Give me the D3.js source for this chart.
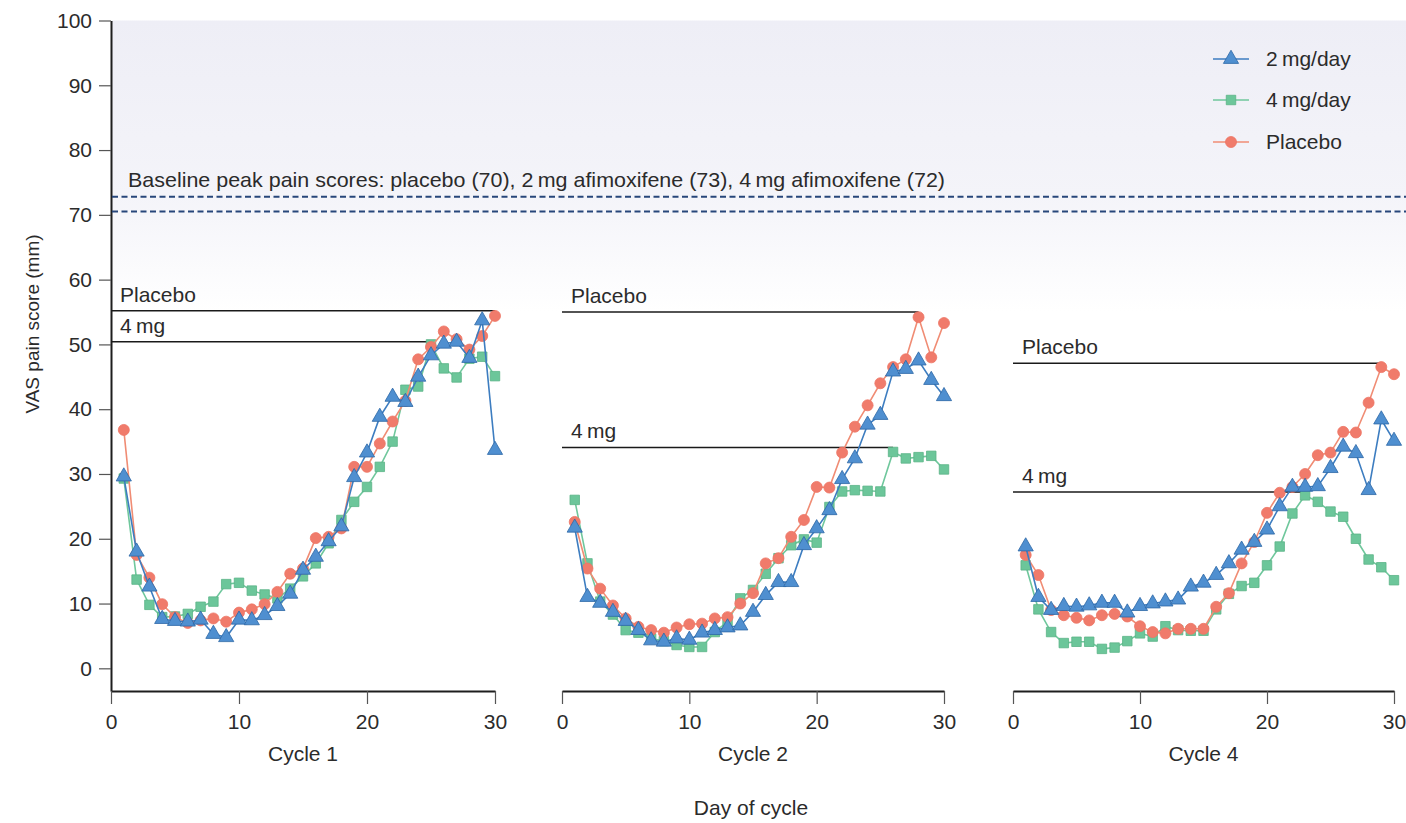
<!DOCTYPE html>
<html>
<head>
<meta charset="utf-8">
<script src="https://cdnjs.cloudflare.com/ajax/libs/d3/7.8.5/d3.min.js"></script>
<style>
  body { margin: 0; background: #fff; }
  text { font-family: "Liberation Sans", Arial, sans-serif; fill: #2b2b2b; }
</style>
</head>
<body>
<div id="chart"></div>
<script>
// days of the cycle (same for every panel)
var days = [1, 2, 3, 4, 5, 6, 7, 8, 9, 10, 11, 12, 13, 14, 15,
            16, 17, 18, 19, 20, 21, 22, 23, 24, 25, 26, 27, 28, 29, 30];
var cycles = ['Cycle 1', 'Cycle 2', 'Cycle 4'];
var series_names = ['2\u2009mg/day', '4\u2009mg/day', 'Placebo'];
var y_ticks = [0, 10, 20, 30, 40, 50, 60, 70, 80, 90, 100];
var x_ticks = [0, 10, 20, 30];

var baseline_peaks = [72.8, 70.5];
var baseline_label = 'Baseline peak pain scores: placebo (70), 2\u2009mg afimoxifene (73), 4\u2009mg afimoxifene (72)';

// VAS pain score (mm)
var cycle1_2mg     = [29.6, 18.0, 12.6, 7.6, 7.3, 7.2, 7.5, 5.3, 4.8, 7.5, 7.4, 8.2, 9.6, 11.5, 15.2,
                      17.2, 19.6, 21.9, 29.5, 33.3, 38.8, 41.9, 41.1, 45.0, 48.3, 50.1, 50.4, 47.9, 53.7, 33.7];
var cycle1_4mg     = [29.3, 13.7, 9.8, 7.9, 8.0, 8.4, 9.5, 10.3, 13.0, 13.2, 12.0, 11.4, 10.8, 12.3, 14.2,
                      16.2, 19.3, 22.9, 25.7, 28.0, 31.1, 35.0, 43.0, 43.5, 50.0, 46.3, 44.9, 47.8, 48.1, 45.1];
var cycle1_placebo = [36.8, 17.5, 14.0, 9.9, 7.9, 7.0, 7.4, 7.7, 7.2, 8.6, 9.1, 9.9, 11.8, 14.6, 15.4,
                      20.1, 20.3, 21.6, 31.1, 31.1, 34.7, 38.1, 41.3, 47.7, 49.6, 52.0, 50.8, 49.2, 51.3, 54.4];

var cycle2_2mg     = [21.7, 11.0, 10.1, 8.7, 7.3, 5.9, 4.3, 4.1, 4.6, 4.4, 5.5, 5.9, 6.3, 6.6, 8.7,
                      11.3, 13.3, 13.3, 19.0, 21.6, 24.4, 29.2, 32.4, 37.6, 39.1, 45.8, 46.2, 47.5, 44.5, 42.0];
var cycle2_4mg     = [26.0, 16.2, 10.3, 8.3, 5.9, 5.5, 4.6, 4.2, 3.6, 3.3, 3.3, 5.6, 7.2, 10.8, 12.1,
                      14.6, 17.0, 19.0, 19.9, 19.4, 24.9, 27.3, 27.5, 27.4, 27.3, 33.4, 32.4, 32.6, 32.8, 30.7];
var cycle2_placebo = [22.6, 15.4, 12.3, 9.7, 7.7, 6.4, 5.9, 5.5, 6.3, 6.8, 6.9, 7.7, 7.9, 10.0, 11.6,
                      16.2, 17.0, 20.3, 22.9, 28.0, 27.9, 33.3, 37.3, 40.6, 44.0, 46.5, 47.7, 54.2, 48.0, 53.3];

var cycle4_2mg     = [18.8, 11.0, 9.0, 9.6, 9.5, 9.7, 10.1, 10.1, 8.6, 9.6, 10.0, 10.3, 10.6, 12.6, 13.2,
                      14.4, 16.2, 18.3, 19.5, 21.4, 25.0, 28.0, 28.0, 28.1, 30.9, 34.2, 33.2, 27.5, 38.4, 35.1];
var cycle4_4mg     = [15.9, 9.1, 5.6, 3.9, 4.1, 4.1, 3.0, 3.2, 4.2, 5.4, 4.9, 6.5, 5.9, 5.8, 5.8,
                      9.1, 11.5, 12.7, 13.2, 15.9, 18.8, 23.9, 26.7, 25.7, 24.2, 23.4, 20.0, 16.8, 15.6, 13.6];
var cycle4_placebo = [17.5, 14.4, 9.0, 8.2, 7.8, 7.4, 8.2, 8.4, 8.0, 6.5, 5.6, 5.4, 6.1, 6.1, 6.1,
                      9.5, 11.6, 16.2, 19.5, 24.0, 27.1, 28.0, 30.0, 32.9, 33.3, 36.5, 36.4, 41.0, 46.5, 45.4];

// peak lines drawn in each panel
var peak_placebo     = [55.2, 55.0, 47.1];
var peak_placebo_day = [30, 28, 29];
var peak_4mg         = [50.4, 34.1, 27.2];
var peak_4mg_day     = [25, 26, 23];

var data_2mg     = [cycle1_2mg, cycle2_2mg, cycle4_2mg];
var data_4mg     = [cycle1_4mg, cycle2_4mg, cycle4_4mg];
var data_placebo = [cycle1_placebo, cycle2_placebo, cycle4_placebo];

var chart_width  = 1406;
var chart_height = 823;
var panel_left   = [111, 562, 1013];
var panel_right  = [495, 944, 1394];
var axis_y       = 691;
var font_size    = 21;

var styles = [
  { name: series_names[0], line: '#3d7dc0', fill: '#4f8fd0', stroke: '#2c67a6', symbol: d3.symbolTriangle, size: 100 },
  { name: series_names[1], line: '#6fc79c', fill: '#6cc69a', stroke: '#5ab487', symbol: d3.symbolSquare,   size: 90 },
  { name: series_names[2], line: '#f08c74', fill: '#f07b6b', stroke: '#ee7565', symbol: d3.symbolCircle,   size: 95 }
];

var svg = d3.select('#chart')
  .append('svg')
  .attr('width', chart_width)
  .attr('height', chart_height);

// faint scan tint at the top of the plot
var grad = svg.append('defs').append('linearGradient')
  .attr('id', 'tint').attr('x1', 0).attr('y1', 0).attr('x2', 0).attr('y2', 1);
grad.append('stop').attr('offset', '0%').attr('stop-color', '#eeeef6');
grad.append('stop').attr('offset', '60%').attr('stop-color', '#f4f4f9');
grad.append('stop').attr('offset', '100%').attr('stop-color', '#ffffff');

var y_scale = d3.scaleLinear()
  .domain([-3.5, 100])
  .range([axis_y, 20.5]);

svg.append('rect')
  .attr('x', panel_left[0] + 1)
  .attr('y', y_scale(100))
  .attr('width', chart_width - panel_left[0])
  .attr('height', y_scale(55) - y_scale(100))
  .attr('fill', 'url(#tint)');

// y axis
var yAxis = d3.axisLeft(y_scale)
  .tickValues(y_ticks)
  .tickSize(12)
  .tickPadding(7)
  .tickSizeOuter(0);

var gy = svg.append('g')
  .attr('transform', 'translate(' + panel_left[0] + ',0)')
  .call(yAxis);
gy.attr('font-size', font_size);
gy.select('.domain').attr('stroke', '#1e1e1e').attr('stroke-width', 2);
gy.selectAll('.tick line').attr('stroke', '#555').attr('stroke-width', 1.2);

svg.append('text')
  .attr('transform', 'translate(32,324) rotate(-90)')
  .attr('text-anchor', 'middle')
  .attr('dy', '0.35em')
  .attr('font-size', 19)
  .text('VAS pain score (mm)');

// baseline dashed lines
svg.selectAll('.baseline')
  .data(baseline_peaks)
  .enter()
  .append('line')
  .attr('class', 'baseline')
  .attr('x1', panel_left[0] + 1)
  .attr('x2', chart_width)
  .attr('y1', function(d) { return y_scale(d); })
  .attr('y2', function(d) { return y_scale(d); })
  .attr('stroke', '#27467a')
  .attr('stroke-width', 2)
  .attr('stroke-dasharray', '6,3.5');

svg.append('text')
  .attr('x', 128)
  .attr('y', 187)
  .attr('font-size', font_size)
  .attr('textLength', 817)
  .attr('lengthAdjust', 'spacingAndGlyphs')
  .text(baseline_label);

// panels
cycles.forEach(function(cycle, p) {
  var x_scale = d3.scaleLinear()
    .domain([0, 30])
    .range([panel_left[p], panel_right[p]]);

  var xAxis = d3.axisBottom(x_scale)
    .tickValues(x_ticks)
    .tickSize(13)
    .tickPadding(10)
    .tickSizeOuter(0);

  var gx = svg.append('g')
    .attr('transform', 'translate(0,' + axis_y + ')')
    .call(xAxis);
  gx.attr('font-size', font_size);
  gx.select('.domain').attr('stroke', '#1e1e1e').attr('stroke-width', 2);
  gx.selectAll('.tick line').attr('stroke', '#555').attr('stroke-width', 1.2);

  svg.append('text')
    .attr('x', x_scale(15))
    .attr('y', 761)
    .attr('text-anchor', 'middle')
    .attr('font-size', font_size)
    .text(cycle);

  // peak reference lines
  var refs = [
    { label: 'Placebo',    value: peak_placebo[p], day: peak_placebo_day[p] },
    { label: '4\u2009mg',  value: peak_4mg[p],     day: peak_4mg_day[p] }
  ];
  refs.forEach(function(r) {
    svg.append('line')
      .attr('x1', x_scale(0))
      .attr('x2', x_scale(r.day))
      .attr('y1', y_scale(r.value))
      .attr('y2', y_scale(r.value))
      .attr('stroke', '#1a1a1a')
      .attr('stroke-width', 1.5);
    svg.append('text')
      .attr('x', x_scale(0) + 9)
      .attr('y', y_scale(r.value) - 9)
      .attr('font-size', font_size)
      .text(r.label);
  });

  var line = d3.line()
    .x(function(d) { return x_scale(d.day); })
    .y(function(d) { return y_scale(d.value); });

  // drawing order: 4 mg, placebo, 2 mg on top
  var order = [1, 2, 0];
  var all = [data_2mg[p], data_4mg[p], data_placebo[p]];
  order.forEach(function(s) {
    var st = styles[s];
    var pts = days.map(function(d, i) { return { day: d, value: all[s][i] }; });

    svg.append('path')
      .datum(pts)
      .attr('d', line)
      .attr('fill', 'none')
      .attr('stroke', st.line)
      .attr('stroke-width', 1.6);

    svg.append('g')
      .selectAll('path')
      .data(pts)
      .enter()
      .append('path')
      .attr('d', d3.symbol().type(st.symbol).size(st.size))
      .attr('transform', function(d) {
        return 'translate(' + x_scale(d.day) + ',' + y_scale(d.value) + ')';
      })
      .attr('fill', st.fill)
      .attr('stroke', st.stroke)
      .attr('stroke-width', 0.8);
  });
});

svg.append('text')
  .attr('x', 751)
  .attr('y', 815)
  .attr('text-anchor', 'middle')
  .attr('font-size', font_size)
  .text('Day of cycle');

// legend
var legend_y = [59, 100, 142];
styles.forEach(function(st, i) {
  var g = svg.append('g')
    .attr('transform', 'translate(1213,' + legend_y[i] + ')');
  g.append('line')
    .attr('x1', 0).attr('x2', 36)
    .attr('stroke', st.line)
    .attr('stroke-width', 1.6);
  g.append('path')
    .attr('d', d3.symbol().type(st.symbol).size(st.size))
    .attr('transform', 'translate(18,0)')
    .attr('fill', st.fill)
    .attr('stroke', st.stroke)
    .attr('stroke-width', 0.8);
  g.append('text')
    .attr('x', 53)
    .attr('dy', '0.35em')
    .attr('font-size', font_size)
    .text(st.name);
});
</script>
</body>
</html>
